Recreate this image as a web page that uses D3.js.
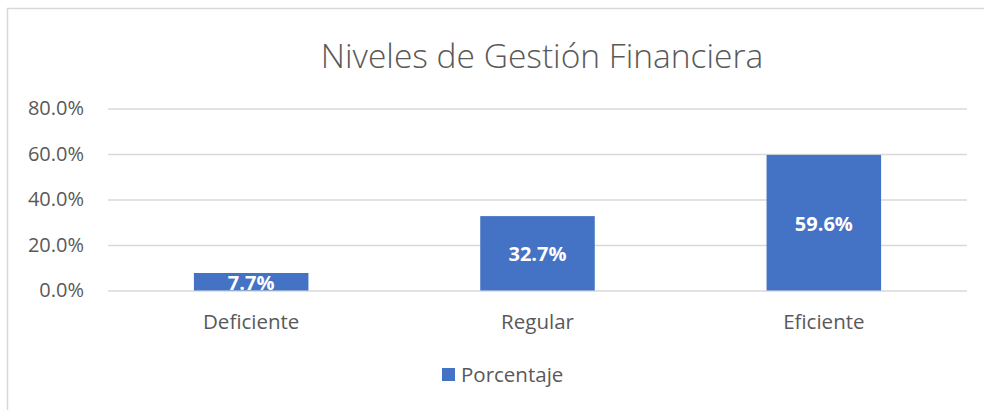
<!DOCTYPE html>
<html><head><meta charset="utf-8">
<script src="https://cdn.jsdelivr.net/npm/d3@7"></script>
<style>html,body{margin:0;padding:0;background:#fff;}svg{display:block;}</style>
</head><body>
<svg id="c" width="984" height="410"></svg>
<script>
const title = "Niveles de Gestión Financiera";
const categories = ["Deficiente", "Regular", "Eficiente"];
const values = [0.077, 0.327, 0.596];
const seriesName = "Porcentaje";
const yTicks = [0, 0.2, 0.4, 0.6, 0.8];

const font = "'Open Sans', 'Noto Sans', sans-serif";
const svg = d3.select("#c");
const W = 984, H = 410;
const m = {left: 108, right: 17, top: 108.5, bottom: 119.5};

svg.append("rect").attr("x", 7.5).attr("y", 8.5).attr("width", 1000).attr("height", 500)
  .attr("fill", "#fff").attr("stroke", "#d9d9d9").attr("stroke-width", 1.5);

const x = d3.scaleBand().domain(categories).range([m.left, W - m.right]).paddingInner(0.6).paddingOuter(0.3);
const y = d3.scaleLinear().domain([0, 0.8]).range([H - m.bottom, m.top]);

svg.append("text").attr("x", 542).attr("y", 68).attr("text-anchor", "middle")
  .attr("font-family", font).attr("font-size", 33.5).attr("font-weight", 300).attr("fill", "#595959").text(title);

const yAxis = d3.axisLeft(y).tickValues(yTicks).tickFormat(d3.format(".1%")).tickSize(-(W - m.left - m.right)).tickPadding(24);
const ga = svg.append("g").attr("transform", `translate(${m.left},0)`).call(yAxis);
ga.select(".domain").remove();
ga.selectAll("line").attr("stroke", "#d9d9d9").attr("stroke-width", 1.5);
ga.selectAll("text").attr("font-family", font).attr("font-size", 20).attr("fill", "#595959");

svg.append("g").selectAll("rect").data(values).join("rect")
  .attr("x", (d, i) => x(categories[i])).attr("width", x.bandwidth())
  .attr("y", d => y(d)).attr("height", d => y(0) - y(d)).attr("fill", "#4472c4");

svg.append("g").selectAll("text").data(values).join("text")
  .attr("x", (d, i) => x(categories[i]) + x.bandwidth() / 2)
  .attr("y", d => (y(d) + y(0)) / 2 + 1).attr("dy", "0.35em").attr("text-anchor", "middle")
  .attr("font-family", font).attr("font-size", 20).attr("font-weight", 700).attr("fill", "#fff")
  .text(d => d3.format(".1%")(d));

const xAxis = d3.axisBottom(x).tickSize(0).tickPadding(24);
const gx = svg.append("g").attr("transform", `translate(0,${y(0)})`).call(xAxis);
gx.select(".domain").remove();
gx.selectAll("text").attr("font-family", font).attr("font-size", 20.5).attr("fill", "#595959");

const lg = svg.append("g");
lg.append("rect").attr("x", 442).attr("y", 368).attr("width", 13).attr("height", 13).attr("fill", "#4472c4");
lg.append("text").attr("x", 461).attr("y", 375).attr("dy", "0.35em").attr("font-family", font)
  .attr("font-size", 20.5).attr("fill", "#595959").text(seriesName);
</script>
</body></html>
